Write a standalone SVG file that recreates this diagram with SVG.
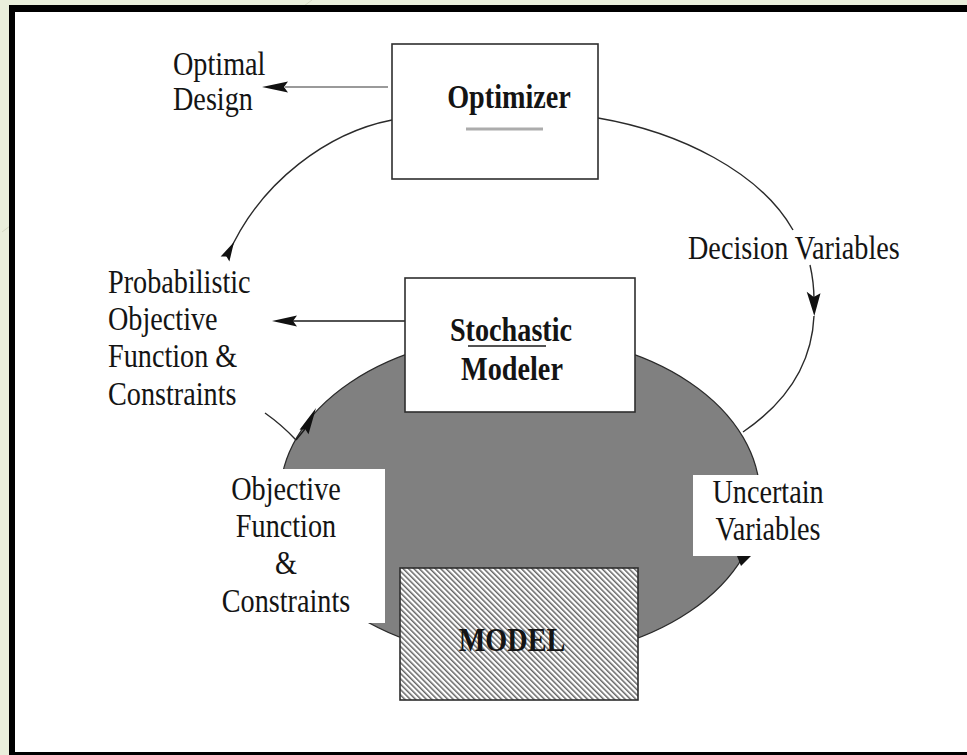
<svg xmlns="http://www.w3.org/2000/svg" width="967" height="755" viewBox="0 0 967 755">
  <defs>
    <style>
      .t { font-family: "Liberation Serif", "Times New Roman", serif; font-size: 33px; fill: #141414; }
      .b { font-weight: bold; }
      .box { fill: #ffffff; stroke: #2e2e2e; stroke-width: 1.6; }
      .wire { fill: none; stroke: #2a2a2a; stroke-width: 1.4; }
      .head { fill: #111111; }
    </style>
    <pattern id="hatch" patternUnits="userSpaceOnUse" width="3.8" height="3.8" patternTransform="rotate(-45)">
      <rect width="3.8" height="3.8" fill="#ffffff"/>
      <line x1="0.8" y1="0" x2="0.8" y2="3.8" stroke="#2e2e2e" stroke-width="1.1"/>
    </pattern>
  </defs>

  <!-- slide background and frame -->
  <rect x="0" y="0" width="967" height="755" fill="#eaefdc"/>
  <line x1="312" y1="0" x2="2" y2="232" stroke="#d5dac4" stroke-width="1"/>
  <rect x="9" y="5" width="970" height="760" fill="#000000"/>
  <rect x="15" y="12" width="960" height="740" fill="#ffffff"/>

  <!-- shaded modelling region -->
  <g id="model-region">
    <ellipse cx="520" cy="497" rx="240" ry="162" fill="#808080" stroke="#2a2a2a" stroke-width="1.2"/>
    <rect x="220" y="469" width="165" height="154" fill="#ffffff"/>
    <rect x="693" y="475" width="150" height="81" fill="#ffffff"/>
  </g>

  <!-- connectors -->
  <g id="connectors">
    <!-- optimizer -> optimal design -->
    <line x1="388" y1="87" x2="285" y2="87" stroke="#9a9a9a" stroke-width="2.2"/>
    <polygon class="head" points="262,87 288,81.5 284,87 288,92.5"/>
    <!-- stochastic modeler -> probabilistic objective -->
    <line x1="405" y1="321" x2="292" y2="321" stroke="#1a1a1a" stroke-width="1.6"/>
    <polygon class="head" points="272,321 297,315.5 293,321 297,326.5"/>
    <!-- outer loop, left side -->
    <path class="wire" d="M392,120 C330,132 260,180 227,257"/>
    <polygon class="head" points="234,242 229.4,261.5 226.5,256.4 220.6,256.6"/>
    <path class="wire" d="M265,413 Q282,425 296,440"/>
    <line x1="296" y1="440" x2="305" y2="429" stroke="#1a1a1a" stroke-width="1.4"/>
    <polygon class="head" points="316,408 308.5,434.2 305.3,429.3 299.5,429.8"/>
    <!-- outer loop, right side -->
    <path class="wire" d="M598,118 C680,132 760,172 793,230"/>
    <path class="wire" d="M810,265 C813,278 814,290 814,300"/>
    <polygon class="head" points="814.3,316 806.7,291.7 813.7,297 820.5,293.3"/>
    <path class="wire" d="M814,316 C812,360 790,400 743,432"/>
    <!-- uncertain variables -->
    <polygon class="head" points="737,556 751,556 741,566"/>
  </g>

  <g id="optimizer">
    <rect class="box" x="392" y="44" width="206" height="135"/>
    <text class="t b" transform="translate(509 108) scale(0.855 1)" text-anchor="middle">Optimizer</text>
    <line x1="466" y1="129" x2="543" y2="129" stroke="#acacac" stroke-width="3"/>
  </g>

  <g id="stochastic-modeler">
    <rect class="box" x="405" y="278" width="230" height="134" stroke-width="2"/>
    <text class="t b" transform="translate(511 341) scale(0.855 1)" text-anchor="middle">Stochastic</text>
    <line x1="468" y1="346" x2="546" y2="346" stroke="#1a1a1a" stroke-width="1.6"/>
    <text class="t b" transform="translate(512 380) scale(0.855 1)" text-anchor="middle">Modeler</text>
  </g>

  <g id="model">
    <rect x="400" y="568" width="238" height="132" fill="url(#hatch)" stroke="#2e2e2e" stroke-width="1.6"/>
    <text class="t b" transform="translate(512 651) scale(0.855 1)" text-anchor="middle" fill="#1a1a1a">MODEL</text>
  </g>

  <g id="label-optimal-design">
    <text class="t" transform="translate(173 75) scale(0.855 1)">Optimal<tspan x="0" dy="35">Design</tspan></text>
  </g>

  <g id="label-decision-variables">
    <text class="t" transform="translate(688 259) scale(0.855 1)">Decision Variables</text>
  </g>

  <g id="label-probabilistic">
    <text class="t" transform="translate(108 293) scale(0.855 1)">Probabilistic<tspan x="0" dy="37">Objective</tspan><tspan x="0" dy="37.5">Function &amp;</tspan><tspan x="0" dy="37.5">Constraints</tspan></text>
  </g>

  <g id="label-objective">
    <text class="t" transform="translate(286 500) scale(0.855 1)" text-anchor="middle">Objective<tspan x="0" dy="37">Function</tspan><tspan x="0" dy="37.5">&amp;</tspan><tspan x="0" dy="37.5">Constraints</tspan></text>
  </g>

  <g id="label-uncertain-variables">
    <text class="t" transform="translate(768 503) scale(0.855 1)" text-anchor="middle">Uncertain<tspan x="0" dy="37">Variables</tspan></text>
  </g>
</svg>
